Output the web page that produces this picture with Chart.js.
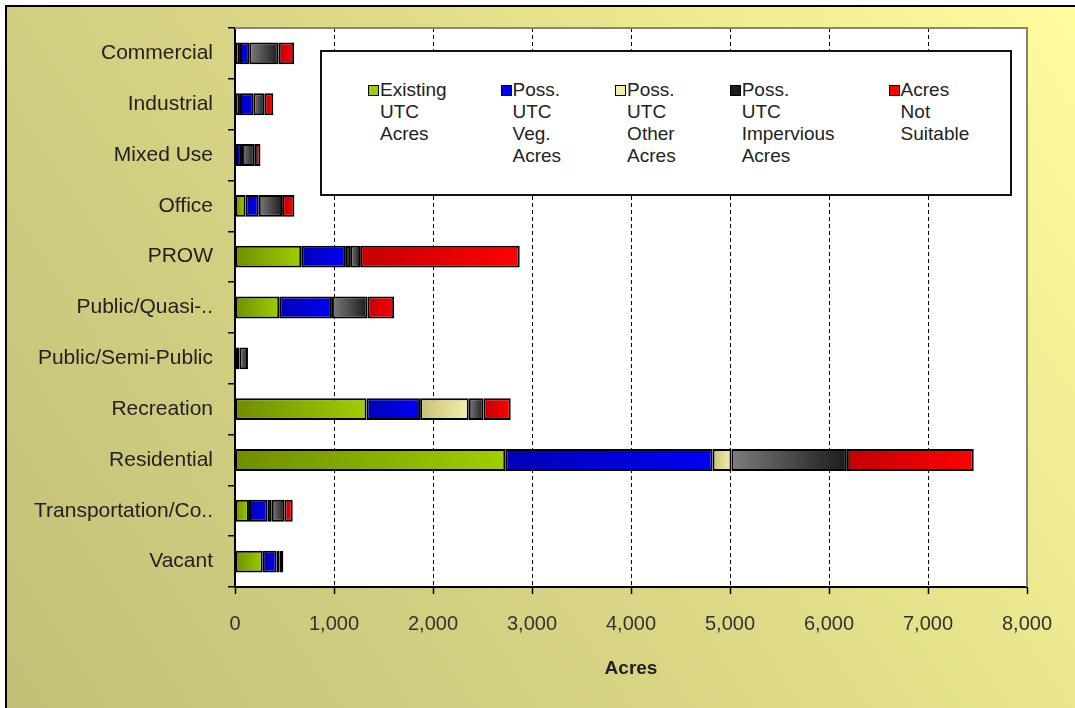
<!DOCTYPE html>
<html>
<head>
<meta charset="utf-8">
<script src="https://cdn.jsdelivr.net/npm/chart.js@4.4.1/dist/chart.umd.min.js"></script>
<style>
  html, body { margin: 0; padding: 0; background: #fff; }
  #wrap { position: relative; width: 1075px; height: 708px; }
  #legend {
    position: absolute; left: 320px; top: 50px; width: 692px; height: 146px;
    background: #fff; border: 2px solid #111;
    display: flex; gap: 54px; padding: 27px 0 0 46px; box-sizing: border-box;
    font-family: "Liberation Sans", Arial, sans-serif; font-size: 19px; line-height: 22px; color: #222;
  }
  .item { display: flex; align-items: flex-start; }
  .box { width: 9px; height: 9px; border: 1.5px solid #000; margin: 6px 1px 0 0; flex: none; }
  .txt { white-space: pre-line; }
</style>
</head>
<body>
<div id="wrap">
  <canvas id="chart" width="1075" height="708"></canvas>
  <div id="legend"></div>
</div>
<script>
// categories (top to bottom)
var categories = ["Commercial", "Industrial", "Mixed Use", "Office", "PROW", "Public/Quasi-..",
  "Public/Semi-Public", "Recreation", "Residential", "Transportation/Co..", "Vacant"];

// series values, acres
var existingUTC   = [50, 50, 10, 106, 669, 447, 44, 1329, 2730, 141, 280];
var possVeg       = [94, 135, 60, 134, 451, 532, 0, 541, 2094, 189, 141];
var possOther     = [0, 0, 0, 0, 43, 0, 0, 491, 191, 41, 27];
var possImpervious= [297, 111, 130, 236, 101, 360, 87, 149, 1165, 127, 40];
var notSuitable   = [157, 91, 57, 124, 1612, 269, 0, 275, 1282, 85, 0];

var seriesNames = ["Existing UTC Acres", "Poss. UTC Veg. Acres", "Poss. UTC Other Acres",
  "Poss. UTC Impervious Acres", "Acres Not Suitable"];

var xTicks = [0, 1000, 2000, 3000, 4000, 5000, 6000, 7000, 8000];

// gradient colours per series: [left, right]
var shades = [
  ["#6f8e00", "#9fce00"],
  ["#0000b8", "#0000f4"],
  ["#c9c176", "#f3efab"],
  ["#7c7c7c", "#1c1c1c"],
  ["#c40000", "#ff0000"]
];

var allSeries = [existingUTC, possVeg, possOther, possImpervious, notSuitable];

// scriptable fill: gradient across each segment
function segFill(ctx) {
  var chart = ctx.chart, xs = chart.scales.x;
  var ds = ctx.datasetIndex, i = ctx.dataIndex;
  var c = shades[ds];
  if (!xs || i === undefined) return c[1];
  var start = 0;
  for (var k = 0; k < ds; k++) start += allSeries[k][i];
  var end = start + allSeries[ds][i];
  var x0 = xs.getPixelForValue(start), x1 = xs.getPixelForValue(end);
  if (!isFinite(x0) || !isFinite(x1) || x1 - x0 < 1) return c[1];
  var g = chart.ctx.createLinearGradient(x0, 0, x1, 0);
  g.addColorStop(0, c[0]);
  g.addColorStop(1, c[1]);
  return g;
}

var datasets = allSeries.map(function (vals, n) {
  return {
    label: seriesNames[n],
    data: vals,
    backgroundColor: segFill,
    borderColor: "#000",
    borderWidth: 2,
    borderSkipped: false,
    categoryPercentage: 1,
    barPercentage: 0.43
  };
});

// page background, frame, plot area, dashed grid
var frame = {
  id: "frame",
  beforeDraw: function (chart) {
    var c = chart.ctx, a = chart.chartArea;
    c.save();
    var g = c.createLinearGradient(0, 708, 1075, 0);
    g.addColorStop(0, "#c2bf78");
    g.addColorStop(0.5, "#dcd886");
    g.addColorStop(1, "#fffd9c");
    c.fillStyle = g;
    c.fillRect(0, 0, 1075, 708);
    c.fillStyle = "#fff";
    c.fillRect(0, 0, 5, 708);
    c.fillRect(0, 0, 1075, 5);
    c.fillStyle = "#000";
    c.fillRect(5, 5, 2, 703);
    c.fillRect(5, 5, 1070, 2);
    c.fillStyle = "#fff";
    c.fillRect(a.left, a.top, a.right - a.left, a.bottom - a.top);
    c.restore();
  },
  beforeDatasetsDraw: function (chart) {
    var c = chart.ctx, a = chart.chartArea, xs = chart.scales.x;
    c.save();
    c.strokeStyle = "#000";
    c.lineWidth = 1;
    c.setLineDash([4, 3]);
    xTicks.forEach(function (v) {
      if (v === xTicks[0] || v === xTicks[xTicks.length - 1]) return;
      var px = Math.round(xs.getPixelForValue(v)) + 0.5;
      c.beginPath();
      c.moveTo(px, a.top);
      c.lineTo(px, a.bottom);
      c.stroke();
    });
    c.restore();
  },
  afterDraw: function (chart) {
    var c = chart.ctx, a = chart.chartArea;
    c.save();
    c.strokeStyle = "#858578";
    c.lineWidth = 2;
    c.beginPath();
    c.moveTo(a.left, a.top);
    c.lineTo(a.right, a.top);
    c.lineTo(a.right, a.bottom);
    c.stroke();
    c.restore();
  }
};

var chart = new Chart(document.getElementById("chart"), {
  type: "bar",
  data: { labels: categories, datasets: datasets },
  plugins: [frame],
  options: {
    indexAxis: "y",
    responsive: false,
    animation: false,
    layout: { padding: { left: 10, top: 28, right: 48, bottom: 0 } },
    plugins: { legend: { display: false }, tooltip: { enabled: false } },
    scales: {
      x: {
        stacked: true,
        min: 0, max: 8000,
        afterBuildTicks: function (s) { s.ticks = xTicks.map(function (v) { return { value: v }; }); },
        afterFit: function (s) { s.height = 121; },
        grid: {
          drawOnChartArea: false,
          tickLength: 7,
          tickColor: "#000",
          tickWidth: 1.5
        },
        border: { display: true, color: "#000", width: 2 },
        ticks: {
          padding: 18,
          color: "#333",
          font: { family: "Liberation Sans", size: 20 },
          callback: function (v) { return Number(v).toLocaleString("en-US"); }
        },
        title: {
          display: true, text: "Acres", color: "#222",
          font: { family: "Liberation Sans", size: 19, weight: "bold" },
          padding: { top: 14, bottom: 28 }
        }
      },
      y: {
        stacked: true,
        afterFit: function (s) { s.width = 225; },
        grid: {
          offset: true,
          drawOnChartArea: false,
          tickLength: 7,
          tickColor: "#000",
          lineWidth: 1.5
        },
        border: { display: true, color: "#000", width: 2 },
        ticks: {
          autoSkip: false,
          padding: 15,
          color: "#222",
          font: { family: "Liberation Sans", size: 21 }
        }
      }
    }
  }
});

// legend built from the chart's datasets, one word per line
var leg = document.getElementById("legend");
chart.data.datasets.forEach(function (d, n) {
  var it = document.createElement("div");
  it.className = "item";
  var b = document.createElement("span");
  b.className = "box";
  b.style.background = shades[n][1];
  var t = document.createElement("span");
  t.className = "txt";
  t.textContent = d.label.split(" ").join("\n");
  it.appendChild(b);
  it.appendChild(t);
  leg.appendChild(it);
});
</script>
</body>
</html>
